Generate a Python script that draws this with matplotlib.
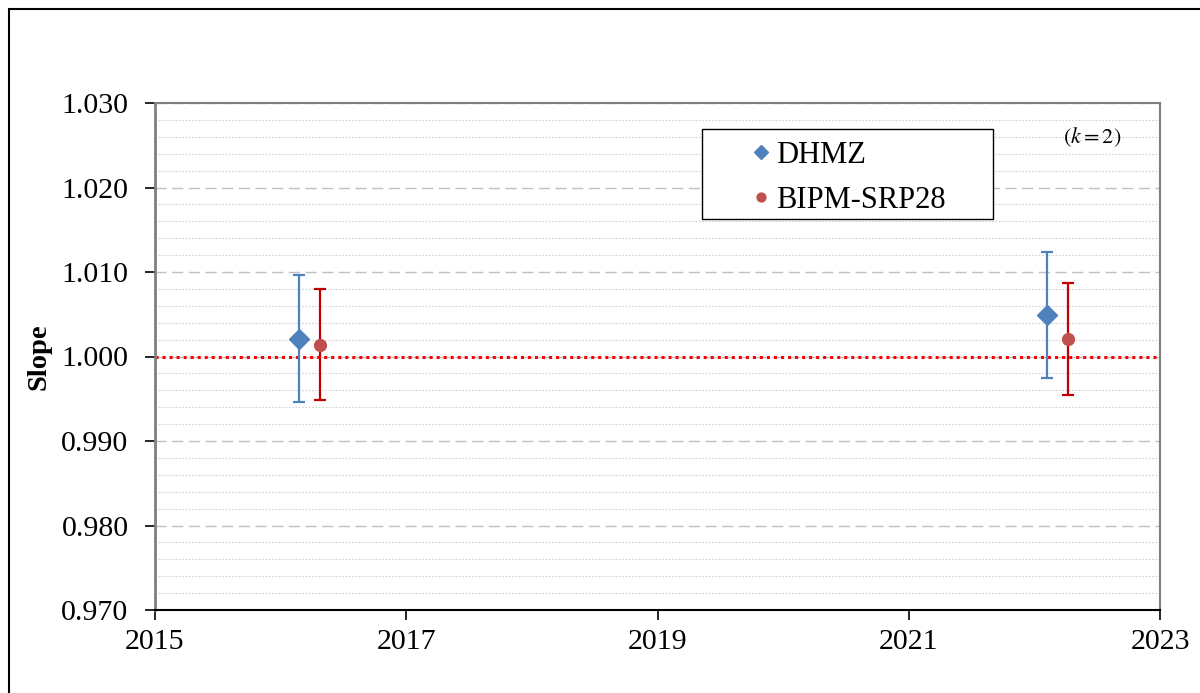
import matplotlib
matplotlib.use('Agg')
import matplotlib.pyplot as plt
from matplotlib.patches import Rectangle
from matplotlib.ticker import MultipleLocator, FormatStrFormatter

# data
dhmz_year = [2016.15, 2022.10]
dhmz_slope = [1.0021, 1.0049]
dhmz_unc = [0.0075, 0.0075]

bipm_year = [2016.31, 2022.27]
bipm_slope = [1.0014, 1.0021]
bipm_unc = [0.0066, 0.0066]

x_ticks = [2015, 2017, 2019, 2021, 2023]

plt.rcParams['font.family'] = ['Liberation Serif', 'DejaVu Serif']
plt.rcParams['mathtext.fontset'] = 'stix'

fig = plt.figure(figsize=(12, 6.93), dpi=100)
ax = fig.add_axes([155 / 1200, 1 - 610 / 693, 1005 / 1200, 507 / 693])

ax.set_xlim(2015, 2023)
ax.set_ylim(0.970, 1.030)
ax.set_xticks(x_ticks)
ax.yaxis.set_major_locator(MultipleLocator(0.01))
ax.yaxis.set_minor_locator(MultipleLocator(0.002))
ax.yaxis.set_major_formatter(FormatStrFormatter('%.3f'))

ax.grid(axis='y', which='major', color='#c0c0c0', linestyle=(0, (8, 4)), linewidth=1.0)
ax.grid(axis='y', which='minor', color='#d0d0d0', linestyle=(0, (1.5, 1.5)), linewidth=0.8)
ax.set_axisbelow(True)

ax.tick_params(axis='both', which='major', direction='out', length=7, width=1.2,
               labelsize=21.5, color='black')
ax.tick_params(axis='y', which='major', pad=12)
ax.tick_params(axis='y', which='minor', length=0)
ax.tick_params(axis='x', pad=7)

for side in ['top', 'right', 'left']:
    ax.spines[side].set_color('#808080')
    ax.spines[side].set_linewidth(1.5)
ax.spines['left'].set_linewidth(2)
ax.spines['bottom'].set_color('black')
ax.spines['bottom'].set_linewidth(1.5)

ax.axhline(1.000, color='#ff0000', linestyle=(0, (1, 1.3)), linewidth=2.2, zorder=2)

ax.errorbar(dhmz_year, dhmz_slope, yerr=dhmz_unc, fmt='D', color='#4f81bd',
            ecolor='#4f81bd', elinewidth=1.6, capsize=4, capthick=1.6,
            markersize=10, label='DHMZ', zorder=4)
ax.errorbar(bipm_year, bipm_slope, yerr=bipm_unc, fmt='o', color='#c0504d',
            ecolor='#c00000', elinewidth=1.6, capsize=4, capthick=1.6,
            markersize=8.5, label='BIPM-SRP28', zorder=4)

ax.set_ylabel('Slope', fontsize=20.5, fontweight='bold', labelpad=7)

# legend box drawn by hand so its size matches
box_x0 = (702 - 155) / 1005
box_y0 = 1 - (219 - 103) / 507
ax.add_patch(Rectangle((box_x0, box_y0), 291 / 1005, 90 / 507, transform=ax.transAxes,
                       facecolor='white', edgecolor='black', linewidth=1.0, zorder=5))
handles, labels = ax.get_legend_handles_labels()
handles = [h[0] for h in handles]
leg = ax.legend(handles, labels, loc='upper left', bbox_to_anchor=(0.574, 0.968),
                frameon=False, fontsize=22, handlelength=0.5, handletextpad=0.23,
                labelspacing=0.52, borderpad=0.2, numpoints=1, markerscale=0.75)
leg.set_zorder(6)

ax.text(0.933, 0.933, r'$(k = 2)$', transform=ax.transAxes, ha='center', va='center',
        fontsize=16)

# outer frame like the pasted chart object
fig.add_artist(Rectangle((9 / 1200, -0.1), 1.2, 1 - 9 / 693 + 0.1, transform=fig.transFigure,
                         fill=False, edgecolor='black', linewidth=1.5))

fig.savefig('out.png', dpi=100)
